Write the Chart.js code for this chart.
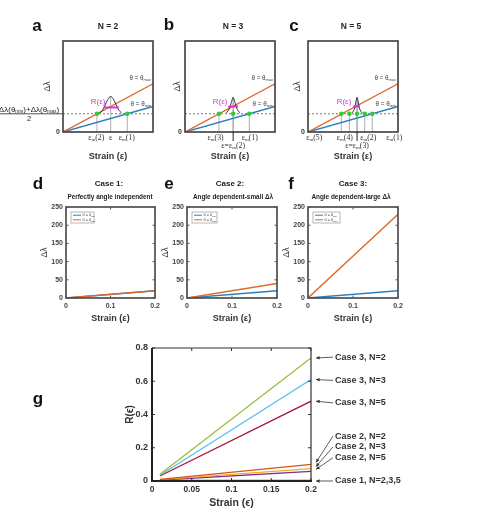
<!DOCTYPE html>
<html>
<head>
<meta charset="utf-8">
<script src="https://cdn.jsdelivr.net/npm/chart.js@4.4.1/dist/chart.umd.min.js"></script>
<style>
  html, body { margin: 0; padding: 0; background: #fff; }
  #fig { position: relative; width: 495px; height: 513px; overflow: hidden;
         font-family: "Liberation Sans", Arial, sans-serif; color: #222; }
  #fig canvas { position: absolute; left: 0; top: 0; }
  .t { position: absolute; transform: translate(-50%, -50%); white-space: nowrap;
       font-weight: bold; line-height: 1; }
  .lt { font-size: 17px; color: #111; }
  .nt { font-size: 8.5px; }
  .ct { font-size: 8px; }
  .st { font-size: 6.4px; }
</style>
</head>
<body>
<div id="fig">
  <canvas id="ca" width="495" height="513"></canvas>
  <canvas id="cb" width="495" height="513"></canvas>
  <canvas id="cc" width="495" height="513"></canvas>
  <canvas id="cd" width="495" height="513"></canvas>
  <canvas id="ce" width="495" height="513"></canvas>
  <canvas id="cf" width="495" height="513"></canvas>
  <canvas id="cg" width="495" height="513"></canvas>

  <div class="t lt" style="left:37px;top:25px">a</div>
  <div class="t lt" style="left:169px;top:24px">b</div>
  <div class="t lt" style="left:294px;top:25px">c</div>
  <div class="t lt" style="left:38px;top:183px">d</div>
  <div class="t lt" style="left:169px;top:183px">e</div>
  <div class="t lt" style="left:291px;top:183px">f</div>
  <div class="t lt" style="left:38px;top:398px">g</div>

  <div class="t nt" style="left:108px;top:26px">N = 2</div>
  <div class="t nt" style="left:233px;top:26px">N = 3</div>
  <div class="t nt" style="left:351px;top:26px">N = 5</div>

  <div class="t ct" style="left:109px;top:184px">Case 1:</div>
  <div class="t st" style="left:110px;top:197px">Perfectly angle independent</div>
  <div class="t ct" style="left:230px;top:184px">Case 2:</div>
  <div class="t st" style="left:233px;top:197px">Angle dependent-small Δλ</div>
  <div class="t ct" style="left:353px;top:184px">Case 3:</div>
  <div class="t st" style="left:351px;top:197px">Angle dependent-large Δλ</div>
</div>

<script>
// ---------------- data ----------------
// a–c: schematic, normalised strain and Δλ (0..1)
const SCHEM_STRAIN = [0, 1];
const SCHEM_THETA_MAX = [0, 0.53];
const SCHEM_THETA_MIN = [0, 0.28];
const SCHEM_MEAN = [0.2, 0.2];
const EPS_M_N2 = [0.377, 0.714];
const EPS_M_N3 = [0.377, 0.535, 0.714];
const EPS_M_N5 = [0.37, 0.46, 0.545, 0.63, 0.714];
const PEAK_N2_X = [0.41, 0.44, 0.47, 0.50, 0.53, 0.56, 0.59, 0.62, 0.65];
const PEAK_N2_Y = [0.21, 0.24, 0.30, 0.36, 0.39, 0.36, 0.30, 0.24, 0.21];
const PEAK_N3_X = [0.46, 0.49, 0.51, 0.525, 0.535, 0.545, 0.56, 0.58, 0.61];
const PEAK_N3_Y = [0.21, 0.25, 0.31, 0.36, 0.38, 0.36, 0.31, 0.25, 0.21];
const PEAK_N5_X = [0.49, 0.515, 0.53, 0.54, 0.545, 0.55, 0.56, 0.575, 0.60];
const PEAK_N5_Y = [0.21, 0.25, 0.32, 0.37, 0.38, 0.37, 0.32, 0.25, 0.21];
const RBAR_N2_X = [0.45, 0.62];
const RBAR_N2_Y = [0.27, 0.27];
const RBAR_N3_X = [0.48, 0.59];
const RBAR_N3_Y = [0.28, 0.28];
const RBAR_N5_X = [0.50, 0.575];
const RBAR_N5_Y = [0.28, 0.28];

// d–f: Δλ vs strain
const STRAIN_DF = [0, 0.2];
const CASE1_MIN = [0, 20];
const CASE1_MAX = [0, 20];
const CASE2_MIN = [0, 20];
const CASE2_MAX = [0, 40];
const CASE3_MIN = [0, 20];
const CASE3_MAX = [0, 230];
const DF_X_TICKS = [0, 0.1, 0.2];
const DF_Y_TICKS = [0, 50, 100, 150, 200, 250];

// g: R(ε) vs strain
const STRAIN_G = [0.01, 0.2];
const R_CASE1 = [0, 0];
const R_CASE2_N2 = [0.01, 0.10];
const R_CASE2_N3 = [0.008, 0.075];
const R_CASE2_N5 = [0.006, 0.058];
const R_CASE3_N2 = [0.04, 0.74];
const R_CASE3_N3 = [0.035, 0.61];
const R_CASE3_N5 = [0.03, 0.48];
const G_X_TICKS = [0, 0.05, 0.1, 0.15, 0.2];
const G_Y_TICKS = [0, 0.2, 0.4, 0.6, 0.8];
const G_LABELS = ['Case 3, N=2', 'Case 3, N=3', 'Case 3, N=5',
                  'Case 2, N=2', 'Case 2, N=3', 'Case 2, N=5', 'Case 1, N=2,3,5'];
const G_TARGETS = [R_CASE3_N2[1], R_CASE3_N3[1], R_CASE3_N5[1],
                   R_CASE2_N2[1], R_CASE2_N3[1], R_CASE2_N5[1], R_CASE1[1]];

// ---------------- styling ----------------
const FONT = '"Liberation Sans", Arial, sans-serif';
const SERIF = '"Liberation Serif", "DejaVu Serif", serif';
const ORANGE = '#dc6a2c';
const BLUE = '#2a7fc0';
const MAGENTA = '#e22ee2';
const GREEN = '#2fcc2f';
const W = 495, H = 513;

function pts(xs, ys) { return xs.map((x, i) => ({ x: x, y: ys[i] })); }

function lineDs(data, color, width, extra) {
  return Object.assign({
    data: data, borderColor: color, backgroundColor: color, borderWidth: width,
    pointRadius: 0, fill: false, tension: 0,
  }, extra || {});
}

// "ε_{m}(2)" -> [["ε",false],["m",true],["(2)",false]]
function parse(s) {
  return s.split(/_\{([^}]*)\}/).map((p, i) => [p, i % 2 === 1]).filter(p => p[0]);
}

function rich(c, s, x, y, size, align, color, weight, family) {
  const parts = parse(s);
  const f = family || FONT, wgt = weight || 'normal';
  const big = wgt + ' ' + size + 'px ' + f;
  const small = wgt + ' ' + (size * 0.62).toFixed(2) + 'px ' + f;
  let w = 0;
  parts.forEach(p => { c.font = p[1] ? small : big; w += c.measureText(p[0]).width; });
  let cx = align === 'center' ? x - w / 2 : align === 'right' ? x - w : x;
  c.save();
  c.textAlign = 'left';
  c.textBaseline = 'middle';
  c.fillStyle = color;
  parts.forEach(p => {
    c.font = p[1] ? small : big;
    c.fillText(p[0], cx, p[1] ? y + size * 0.3 : y);
    cx += c.measureText(p[0]).width;
  });
  c.restore();
}

function rotated(c, s, x, y, size, color, weight) {
  c.save();
  c.translate(x, y);
  c.rotate(-Math.PI / 2);
  rich(c, s, 0, 0, size, 'center', color, weight);
  c.restore();
}

function frame(chart, lw, color) {
  const a = chart.chartArea, c = chart.ctx;
  c.save();
  c.strokeStyle = color;
  c.lineWidth = lw;
  c.strokeRect(a.left, a.top, a.right - a.left, a.bottom - a.top);
  c.restore();
}

function innerTicks(chart, len, color) {
  const a = chart.chartArea, c = chart.ctx, xs = chart.scales.x, ys = chart.scales.y;
  c.save();
  c.strokeStyle = color;
  c.lineWidth = 1;
  c.beginPath();
  xs.ticks.forEach(t => {
    const p = xs.getPixelForValue(t.value);
    c.moveTo(p, a.bottom); c.lineTo(p, a.bottom - len);
    c.moveTo(p, a.top); c.lineTo(p, a.top + len);
  });
  ys.ticks.forEach(t => {
    const p = ys.getPixelForValue(t.value);
    c.moveTo(a.left, p); c.lineTo(a.left + len, p);
    c.moveTo(a.right, p); c.lineTo(a.right - len, p);
  });
  c.stroke();
  c.restore();
}

// box = [left, top, right, bottom] of the plot area in page pixels
function makeChart(id, box, xOpt, yOpt, datasets, draw) {
  const L = box[0], T = box[1], R = box[2], B = box[3];
  return new Chart(document.getElementById(id), {
    type: 'line',
    data: { datasets: datasets },
    options: {
      responsive: false,
      animation: false,
      events: [],
      layout: { padding: { left: 0, top: T, right: W - R, bottom: 0 } },
      plugins: { legend: { display: false }, tooltip: { enabled: false } },
      scales: {
        x: Object.assign({
          type: 'linear', grid: { display: false, drawTicks: false }, border: { display: false },
          afterFit: s => { s.height = H - B; },
        }, xOpt),
        y: Object.assign({
          type: 'linear', grid: { display: false, drawTicks: false }, border: { display: false },
          afterFit: s => { s.width = L; },
        }, yOpt),
      },
    },
    plugins: [{ id: 'decor_' + id, afterDatasetsDraw: draw }],
  });
}

function fixedTicks(values) {
  return s => { s.ticks = values.map(v => ({ value: v })); };
}

// ---------------- a–c schematics ----------------
function schematic(id, box, epsM, peakX, peakY, barX, barY, spec) {
  const centre = peakX[Math.floor(peakX.length / 2)];
  const peakTop = Math.max.apply(null, peakY);
  const guides = epsM.concat([centre]).map(x =>
    lineDs(pts([x, x], [0, x === centre ? peakTop : SCHEM_MEAN[0]]), '#9a9a9a', 0.8));
  const datasets = [
    lineDs(pts(epsM, epsM.map(() => SCHEM_MEAN[0])), GREEN, 0,
      { showLine: false, pointRadius: 2.3, pointBorderWidth: 0, pointBackgroundColor: GREEN }),
    lineDs(pts(barX, barY), MAGENTA, 2),
    lineDs(pts(peakX, peakY), '#222', 0.9, { tension: 0.4 }),
    lineDs(pts(SCHEM_STRAIN, SCHEM_THETA_MAX), ORANGE, 1.4),
    lineDs(pts(SCHEM_STRAIN, SCHEM_THETA_MIN), BLUE, 1.4),
    lineDs(pts(SCHEM_STRAIN, SCHEM_MEAN), '#555', 0.8, { borderDash: [2, 2] }),
  ].concat(guides);

  const draw = chart => {
    const c = chart.ctx, a = chart.chartArea;
    const X = v => chart.scales.x.getPixelForValue(v);
    const Y = v => chart.scales.y.getPixelForValue(v);
    frame(chart, 1.6, '#3c3c3c');
    rich(c, 'θ = θ_{max}', a.right - 2, Y(0.59), 6.3, 'right', '#444');
    rich(c, 'θ = θ_{min}', a.right - 2, Y(0.31), 6.3, 'right', '#444');
    rich(c, 'R(ε)', X(spec.rx), Y(0.335), 8, 'center', '#d13cd1');
    spec.under.forEach(u =>
      rich(c, u[0], X(u[1]), a.bottom + 5.5 + u[2] * 8, 7.8, 'center', '#333', 'normal', SERIF));
    if (spec.tick) {
      c.save();
      c.strokeStyle = '#222';
      c.lineWidth = 1;
      c.beginPath();
      c.moveTo(X(centre), a.bottom);
      c.lineTo(X(centre), a.bottom + 9);
      c.stroke();
      c.restore();
    }
    rich(c, 'Strain (ε)', (a.left + a.right) / 2, a.bottom + 25, 9, 'center', '#333', 'bold');
    rotated(c, 'Δλ', a.left - spec.yt, (a.top + a.bottom) / 2, 8.5, '#333');
    if (spec.fraction) {
      const ym = Y(SCHEM_MEAN[0]);
      rich(c, 'Δλ(θ_{min})+Δλ(θ_{max})', a.left - 34, ym - 4.5, 8, 'center', '#222');
      rich(c, '2', a.left - 34, ym + 5, 7.5, 'center', '#222');
      c.save();
      c.strokeStyle = '#222';
      c.lineWidth = 0.8;
      c.beginPath();
      c.moveTo(0, ym);
      c.lineTo(a.left - 1, ym);
      c.stroke();
      c.restore();
    }
  };

  makeChart(id, box,
    { min: 0, max: 1, ticks: { display: false } },
    { min: 0, max: 1, afterBuildTicks: fixedTicks([0]),
      ticks: { padding: 3, color: '#333', font: { family: FONT, size: 7, weight: 'bold' } } },
    datasets, draw);
}

schematic('ca', [63, 41, 153, 132], EPS_M_N2, PEAK_N2_X, PEAK_N2_Y, RBAR_N2_X, RBAR_N2_Y, {
  rx: 0.39, yt: 15, fraction: true, tick: false,
  under: [['ε_{m}(2)', 0.37, 0], ['ε', 0.53, 0], ['ε_{m}(1)', 0.71, 0]],
});
schematic('cb', [185, 41, 275, 132], EPS_M_N3, PEAK_N3_X, PEAK_N3_Y, RBAR_N3_X, RBAR_N3_Y, {
  rx: 0.39, yt: 7, fraction: false, tick: true,
  under: [['ε_{m}(3)', 0.34, 0], ['ε_{m}(1)', 0.72, 0], ['ε=ε_{m}(2)', 0.535, 1]],
});
schematic('cc', [308, 41, 398, 132], EPS_M_N5, PEAK_N5_X, PEAK_N5_Y, RBAR_N5_X, RBAR_N5_Y, {
  rx: 0.40, yt: 10, fraction: false, tick: true,
  under: [['ε_{m}(5)', 0.07, 0], ['ε_{m}(4)', 0.41, 0], ['ε_{m}(2)', 0.67, 0],
          ['ε_{m}(1)', 0.96, 0], ['ε=ε_{m}(3)', 0.545, 1]],
});

// ---------------- d–f ----------------
function casePanel(id, box, minVals, maxVals, legendW) {
  const datasets = [
    lineDs(pts(STRAIN_DF, maxVals), ORANGE, 1.4),
    lineDs(pts(STRAIN_DF, minVals), BLUE, 1.4),
  ];
  const draw = chart => {
    const c = chart.ctx, a = chart.chartArea;
    frame(chart, 1.6, '#444');
    innerTicks(chart, 2.5, '#555');
    // legend
    const lx = a.left + 5, ly = a.top + 5;
    c.save();
    c.fillStyle = '#fff';
    c.fillRect(lx, ly, legendW, 11);
    c.strokeStyle = '#999';
    c.lineWidth = 0.7;
    c.strokeRect(lx, ly, legendW, 11);
    [[BLUE, 'θ = θ_{min}', 3.2], [ORANGE, 'θ = θ_{max}', 7.8]].forEach(e => {
      c.strokeStyle = e[0];
      c.lineWidth = 1;
      c.beginPath();
      c.moveTo(lx + 2, ly + e[2]);
      c.lineTo(lx + 10, ly + e[2]);
      c.stroke();
      rich(c, e[1], lx + 11.5, ly + e[2], 3.8, 'left', '#333');
    });
    c.restore();
    rich(c, 'Strain (ε)', (a.left + a.right) / 2, a.bottom + 21, 9, 'center', '#333', 'bold');
    rotated(c, 'Δλ', a.left - 21, (a.top + a.bottom) / 2, 8.5, '#333');
  };
  makeChart(id, box,
    { min: 0, max: 0.2, afterBuildTicks: fixedTicks(DF_X_TICKS),
      ticks: { padding: 4, color: '#444', font: { family: FONT, size: 7, weight: 'bold' },
               callback: v => String(v) } },
    { min: 0, max: 250, afterBuildTicks: fixedTicks(DF_Y_TICKS),
      ticks: { padding: 3, color: '#444', font: { family: FONT, size: 7, weight: 'bold' } } },
    datasets, draw);
}

casePanel('cd', [66, 207, 155, 298], CASE1_MIN, CASE1_MAX, 23);
casePanel('ce', [187, 207, 277, 298], CASE2_MIN, CASE2_MAX, 25);
casePanel('cf', [308, 207, 398, 298], CASE3_MIN, CASE3_MAX, 27);

// ---------------- g ----------------
(function () {
  const series = [
    [R_CASE1, '#0b6fb8', 2.6],
    [R_CASE2_N2, '#d95319', 1.3],
    [R_CASE2_N3, '#edb120', 1.3],
    [R_CASE2_N5, '#7e2f8e', 1.3],
    [R_CASE3_N2, '#96be3c', 1.3],
    [R_CASE3_N3, '#55c0ea', 1.3],
    [R_CASE3_N5, '#a8193d', 1.3],
  ];
  const datasets = series.map(s => lineDs(pts(STRAIN_G, s[0]), s[1], s[2]));
  const textY = [0.745, 0.605, 0.47, 0.27, 0.205, 0.14, 0];

  const draw = chart => {
    const c = chart.ctx, a = chart.chartArea;
    const Y = v => chart.scales.y.getPixelForValue(v);
    innerTicks(chart, 3, '#333');
    c.save();
    c.strokeStyle = '#333';
    c.lineWidth = 1.2;
    c.beginPath();
    c.moveTo(a.left, a.top); c.lineTo(a.right, a.top); c.lineTo(a.right, a.bottom);
    c.stroke();
    c.strokeStyle = '#222';
    c.lineWidth = 2;
    c.beginPath();
    c.moveTo(a.left, a.top); c.lineTo(a.left, a.bottom); c.lineTo(a.right + 1, a.bottom);
    c.stroke();
    c.restore();

    G_LABELS.forEach((lab, i) => {
      const ty = Y(textY[i]);
      const tgY = Y(G_TARGETS[i]) - (i >= 3 && i <= 5 ? 2 : 0);
      const x0 = a.right + 22, x1 = a.right + 5;
      c.save();
      c.strokeStyle = '#333';
      c.fillStyle = '#333';
      c.lineWidth = 0.8;
      c.beginPath();
      c.moveTo(x0, ty);
      c.lineTo(x1, tgY);
      c.stroke();
      const ang = Math.atan2(tgY - ty, x1 - x0);
      c.beginPath();
      c.moveTo(x1, tgY);
      c.lineTo(x1 - 4 * Math.cos(ang - 0.45), tgY - 4 * Math.sin(ang - 0.45));
      c.lineTo(x1 - 4 * Math.cos(ang + 0.45), tgY - 4 * Math.sin(ang + 0.45));
      c.closePath();
      c.fill();
      c.restore();
      rich(c, lab, a.right + 24, ty, 9, 'left', '#333', 'bold');
    });

    rich(c, 'Strain (ϵ)', (a.left + a.right) / 2, a.bottom + 22, 10.5, 'center', '#333', 'bold');
    rotated(c, 'R(ϵ)', a.left - 22, (a.top + a.bottom) / 2, 10, '#333', 'bold');
  };

  makeChart('cg', [152, 348, 311, 481],
    { min: 0, max: 0.2, afterBuildTicks: fixedTicks(G_X_TICKS),
      ticks: { padding: 4, color: '#333', font: { family: FONT, size: 8.5, weight: 'bold' },
               callback: v => String(v) } },
    { min: 0, max: 0.8, afterBuildTicks: fixedTicks(G_Y_TICKS),
      ticks: { padding: 4, color: '#333', font: { family: FONT, size: 9, weight: 'bold' },
               callback: v => String(v) } },
    datasets, draw);
})();
</script>
</body>
</html>
